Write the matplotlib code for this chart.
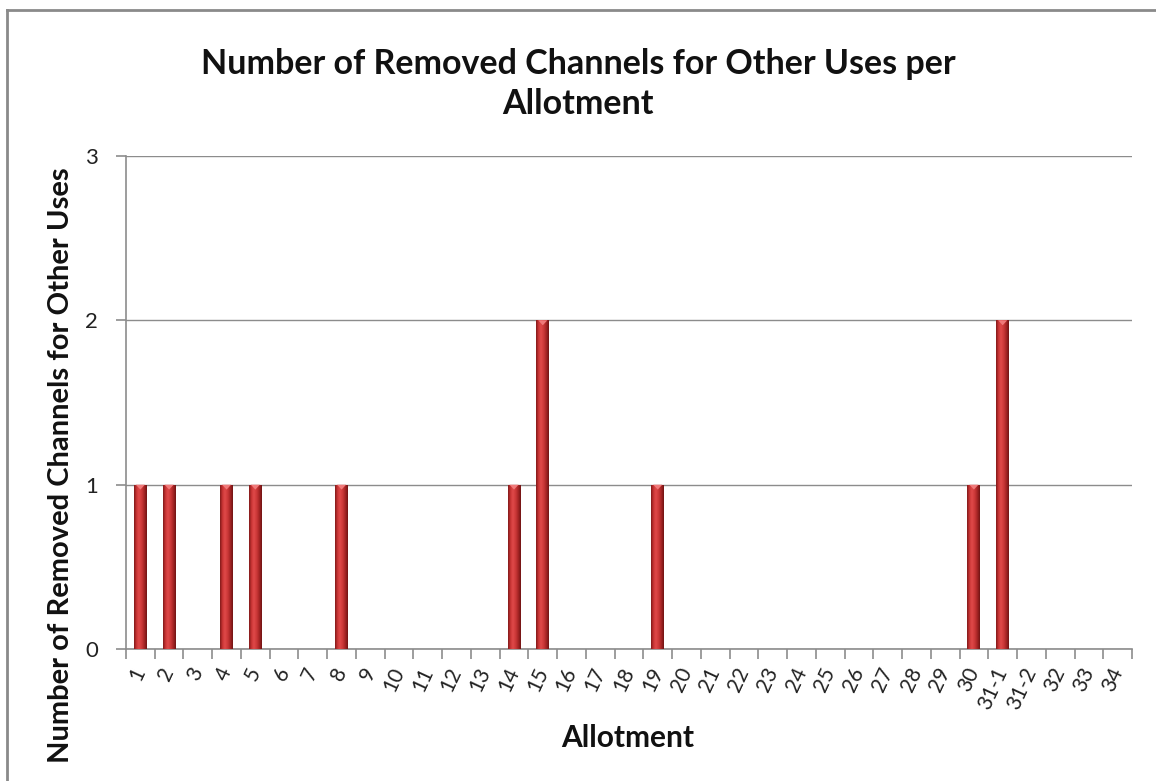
import numpy as np
import matplotlib
matplotlib.use("Agg")
import matplotlib.pyplot as plt
from matplotlib.colors import LinearSegmentedColormap
from matplotlib.lines import Line2D
from matplotlib.patches import Polygon

# Allotment categories and the number of removed channels for each
allotments = [str(i) for i in range(1, 31)] + ["31-1", "31-2", "32", "33", "34"]
removed = [1, 1, 0, 1, 1, 0, 0, 1, 0, 0,
           0, 0, 0, 1, 2, 0, 0, 0, 1, 0,
           0, 0, 0, 0, 0, 0, 0, 0, 0, 1,
           2, 0, 0, 0, 0]
y_ticks = [0, 1, 2, 3]

title = "Number of Removed Channels for Other Uses per\nAllotment"
x_title = "Allotment"
y_title = "Number of Removed Channels for Other Uses"

plt.rcParams["font.family"] = ["Lato", "DejaVu Sans"]
GRID = "#8c8c8c"

W, H = 1156, 781
fig = plt.figure(figsize=(W / 100, H / 100), dpi=100)
ax = fig.add_axes([126 / W, 1 - 649 / H, (1132 - 126) / W, (649 - 156) / H])

x = np.arange(len(allotments))
bars = ax.bar(x, removed, width=0.45, color="none", edgecolor="none", zorder=3)

# cylindrical red shading across each bar
cyl = LinearSegmentedColormap.from_list(
    "cyl", [(0.0, "#7e1818"), (0.18, "#c83434"), (0.38, "#e04a4a"),
            (0.62, "#c93636"), (0.85, "#9a2020"), (1.0, "#6e1313")])
grad = np.linspace(0, 1, 64).reshape(1, -1)
for rect in bars:
    h = rect.get_height()
    if h <= 0:
        continue
    x0, w = rect.get_x(), rect.get_width()
    im = ax.imshow(grad, cmap=cyl, aspect="auto", extent=(x0, x0 + w, 0, h),
                   zorder=3, interpolation="bicubic")
    im.set_clip_path(rect)
    # lighter bevel at the top of the column
    cap = Polygon([(x0 + w * 0.15, h), (x0 + w * 0.85, h),
                   (x0 + w * 0.5, h - 0.03)], closed=True,
                  facecolor="#f07a7a", edgecolor="none", zorder=4)
    ax.add_patch(cap)

ax.set_xlim(-0.5, len(allotments) - 0.5)
ax.set_ylim(0, 3)

# axes styling
for side in ("top", "right"):
    ax.spines[side].set_visible(False)
for side in ("left", "bottom"):
    ax.spines[side].set_color(GRID)
    ax.spines[side].set_linewidth(1.2)

ax.set_yticks(y_ticks)
ax.yaxis.grid(True, color=GRID, linewidth=1.0, zorder=0)
ax.set_axisbelow(True)
ax.tick_params(axis="y", direction="out", length=7, width=1.2, color=GRID,
               labelsize=16, pad=13, labelcolor="#222222")

ax.set_xticks(x)
ax.set_xticks(np.arange(len(allotments) + 1) - 0.5, minor=True)
ax.set_xticklabels(allotments)
ax.tick_params(axis="x", which="major", length=0, pad=14, labelsize=15,
               labelcolor="#222222")
ax.tick_params(axis="x", which="minor", direction="out", length=7, width=1.2,
               color=GRID)
for lab in ax.get_xticklabels():
    lab.set_rotation(65)
    lab.set_ha("right")
    lab.set_va("center")
    lab.set_rotation_mode("anchor")

# titles
fig.text(578 / W, 1 - 84 / H, title, ha="center", va="center",
         fontsize=24.5, fontweight="bold", linespacing=1.3, color="#111111")
fig.text(628 / W, 1 - 738 / H, x_title, ha="center", va="center",
         fontsize=21.5, fontweight="bold", color="#111111")
fig.text(61 / W, 1 - 465 / H, y_title, ha="center", va="center",
         rotation=90, fontsize=21, fontweight="bold", color="#111111")

# chart border
fig.add_artist(Line2D([7 / W, 1.0], [1 - 10 / H, 1 - 10 / H],
                      transform=fig.transFigure, color="#8a8a8a", lw=2))
fig.add_artist(Line2D([7 / W, 7 / W], [0.0, 1 - 10 / H],
                      transform=fig.transFigure, color="#8a8a8a", lw=2))

fig.savefig("out.png", dpi=100)
